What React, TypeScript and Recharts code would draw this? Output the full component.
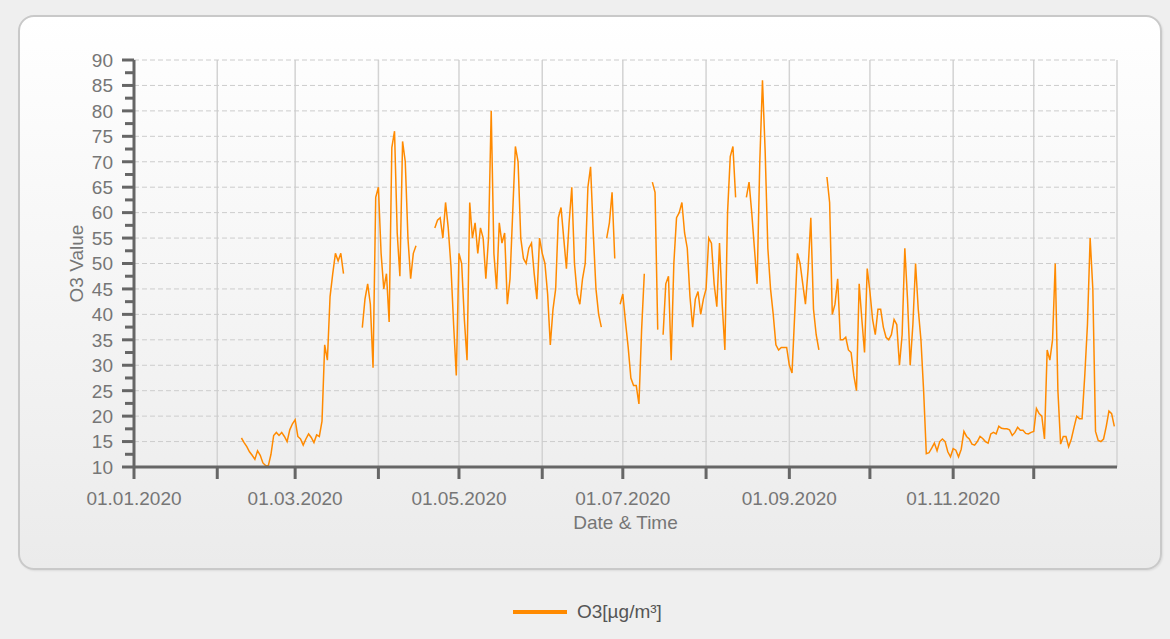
import React from 'react';
import { LineChart, Line, XAxis, YAxis, CartesianGrid, ReferenceLine } from 'recharts';

// day index (0 = 01.01.2020) of each month start
const monthStarts = [0, 31, 60, 91, 121, 152, 182, 213, 244, 274, 305, 335];
const monthLabels = [
  '01.01.2020', '', '01.03.2020', '', '01.05.2020', '', '01.07.2020', '',
  '01.09.2020', '', '01.11.2020', '',
];
const yMajor = [15, 20, 25, 30, 35, 40, 45, 50, 55, 60, 65, 70, 75, 80, 85, 90];
const yTicks = [
  10, 12.5, 15, 17.5, 20, 22.5, 25, 27.5, 30, 32.5, 35, 37.5, 40, 42.5, 45, 47.5, 50,
  52.5, 55, 57.5, 60, 62.5, 65, 67.5, 70, 72.5, 75, 77.5, 80, 82.5, 85, 87.5, 90,
];

// daily O3 values per month, null = no data
const jan: (number | null)[] = [];
const feb = [
  null, null, null, null, null, null, null, null, null,
  15.7, 14.8, 14, 13, 12.3, 11.5, 13.2, 12.3, 10.8, 10.3, 10.2,
  12.5, 16.2, 16.8, 16.2, 16.8, 16, 15, 17.3, 18.5,
];
const mar = [
  19.3, 16, 15.5, 14.3, 15.5, 16.5, 15.8, 14.8, 16.3, 16,
  19, 34, 31, 43.5, 48, 52, 50.5, 52, 48,
  null, null, null, null, null, null,
  37.4, 43, 46, 42, 29.5, 63,
];
const apr = [
  65, 52, 45, 48, 38.5, 72.8, 76, 56, 47.5, 74,
  70, 55, 47, 52, 53.5, null, null, null, null, null,
  null, 57, 58.5, 59, 55, 62, 57, 49.5, 38, 28,
];
const may = [
  52, 50, 39, 31, 62, 55, 58, 52, 57, 55,
  47, 55, 80, 52, 45, 58, 54, 56, 42, 47,
  60, 73, 70, 55, 51, 50, 53, 54, 48, 43, 55,
];
const jun = [
  52, 50, 44, 34, 41, 45, 59, 61, 55, 49,
  58, 65, 50, 44, 42, 47, 50, 65, 69, 56,
  45, 40, 37.5, null, 55, 58, 64, 51, null, 42,
];
const jul = [
  44, 38.5, 33.5, 27.5, 26, 26, 22.4, 37, 48, null,
  null, 66, 64, 37, null, 36, 46, 47.5, 31, 50,
  59, 60, 62, 56, 53, 43.5, 37.5, 43, 44.5, 40, 43,
];
const aug = [
  45, 55, 54, 46, 41.5, 54, 42, 33, 60, 71,
  73, 63, null, null, null, 63, 66, 60, 53, 46,
  70, 86, 72, 53, 45, 40, 34, 33, 33.5, 33.5, 33.5,
];
const sep = [
  30, 28.5, 40, 52, 50, 46, 42, 49, 59, 41,
  36, 33, null, null, 67, 62, 40, 42, 47, 35,
  35, 35.5, 33, 32.5, 28, 25, 46, 39, 32.5, 49,
];
const oct = [
  44.5, 39, 36, 41, 41, 37.5, 35.5, 35, 36, 39,
  38, 30, 36, 53, 43, 30, 38, 50, 41, 35,
  25, 12.6, 12.8, 13.7, 14.7, 13.2, 15, 15.5, 15, 13, 12,
];
const nov = [
  13.6, 13.3, 12, 13.5, 17, 16, 15.5, 14.5, 14.3, 15,
  16, 15.6, 15, 14.7, 16.5, 16.8, 16.5, 18, 17.6, 17.5,
  17.5, 17.3, 16.2, 16.8, 17.8, 17.2, 17.2, 16.6, 16.5, 16.8,
];
const dec = [
  17, 21.5, 20.5, 20, 15.5, 33, 31, 35, 50, 25,
  14.5, 16, 16, 14, 15.5, 17.8, 20, 19.5, 19.5, 28,
  38, 55, 45, 17, 15.2, 15, 15.5, 18, 21, 20.5, 18,
];

const months = [jan, feb, mar, apr, may, jun, jul, aug, sep, oct, nov, dec];

const data: { day: number; o3: number | null }[] = [];
months.forEach((vals, m) => {
  vals.forEach((v, i) => data.push({ day: monthStarts[m] + i, o3: v }));
});

const FONT = '"Liberation Sans", Arial, sans-serif';
const TEXT = '#767676';
const AXIS = '#666666';
const ORANGE = '#ff8a00';

const YTick = (props: any) => {
  const { x, y, payload } = props;
  const major = payload.value % 5 === 0;
  return (
    <g>
      <line x1={x - (major ? 12 : 9)} x2={x} y1={y} y2={y} stroke={AXIS} strokeWidth={3} />
      {major && (
        <text x={x - 21} y={y} dy="0.36em" textAnchor="end" fill={TEXT} fontSize={19} fontFamily={FONT}>
          {payload.value}
        </text>
      )}
    </g>
  );
};

const XTick = (props: any) => {
  const { x, y, payload, index } = props;
  return (
    <g>
      <line x1={x} x2={x} y1={y} y2={y + 12} stroke={AXIS} strokeWidth={3} />
      <text x={x} y={y + 38} textAnchor="middle" fill={TEXT} fontSize={19} fontFamily={FONT}>
        {monthLabels[index] ?? ''}
      </text>
    </g>
  );
};

export default function App() {
  return (
    <div
      style={{
        position: 'fixed',
        left: 0,
        top: 0,
        width: 1170,
        height: 639,
        background: '#efefef',
        fontFamily: FONT,
      }}
    >
      <div
        style={{
          position: 'absolute',
          left: 18,
          top: 15,
          width: 1144,
          height: 555,
          boxSizing: 'border-box',
          border: '2px solid #c9c9c9',
          borderRadius: 16,
          background: 'linear-gradient(to bottom, #ffffff 0%, #ebebeb 100%)',
          boxShadow: '1px 1px 2px rgba(0,0,0,0.08)',
        }}
      />
      <div style={{ position: 'absolute', left: 0, top: 0 }}>
        <LineChart
          width={1170}
          height={580}
          data={data}
          margin={{ top: 60, right: 53, bottom: 48, left: 14 }}
        >
          <CartesianGrid horizontal={false} stroke="#d3d3d3" strokeWidth={1.5} />
          {yMajor.map((v) => (
            <ReferenceLine key={v} y={v} stroke="#cccccc" strokeDasharray="5 3" />
          ))}
          <XAxis
            dataKey="day"
            type="number"
            domain={[0, 366]}
            ticks={monthStarts}
            interval={0}
            height={65}
            tickSize={0}
            tickMargin={0}
            tickLine={false}
            tick={<XTick />}
            axisLine={{ stroke: AXIS, strokeWidth: 3 }}
            label={{
              value: 'Date & Time',
              position: 'insideBottom',
              offset: 3,
              fill: TEXT,
              fontSize: 19,
              fontFamily: FONT,
            }}
          />
          <YAxis
            type="number"
            domain={[10, 90]}
            ticks={yTicks}
            interval={0}
            width={120}
            tickSize={0}
            tickMargin={0}
            tickLine={false}
            tick={<YTick />}
            axisLine={{ stroke: AXIS, strokeWidth: 3 }}
            label={{
              value: 'O3 Value',
              angle: -90,
              position: 'insideLeft',
              offset: 62,
              fill: TEXT,
              fontSize: 19,
              fontFamily: FONT,
              style: { textAnchor: 'middle' },
            }}
          />
          <Line
            type="linear"
            dataKey="o3"
            name="O3[µg/m³]"
            stroke={ORANGE}
            strokeWidth={1.5}
            dot={false}
            activeDot={false}
            connectNulls={false}
            isAnimationActive={false}
          />
        </LineChart>
      </div>
      <div
        style={{
          position: 'absolute',
          left: 513,
          top: 599,
          height: 26,
          display: 'flex',
          alignItems: 'center',
        }}
      >
        <span style={{ display: 'inline-block', width: 54, height: 4, background: ORANGE }} />
        <span style={{ marginLeft: 10, fontSize: 19, color: '#555555' }}>O3[µg/m³]</span>
      </div>
    </div>
  );
}
